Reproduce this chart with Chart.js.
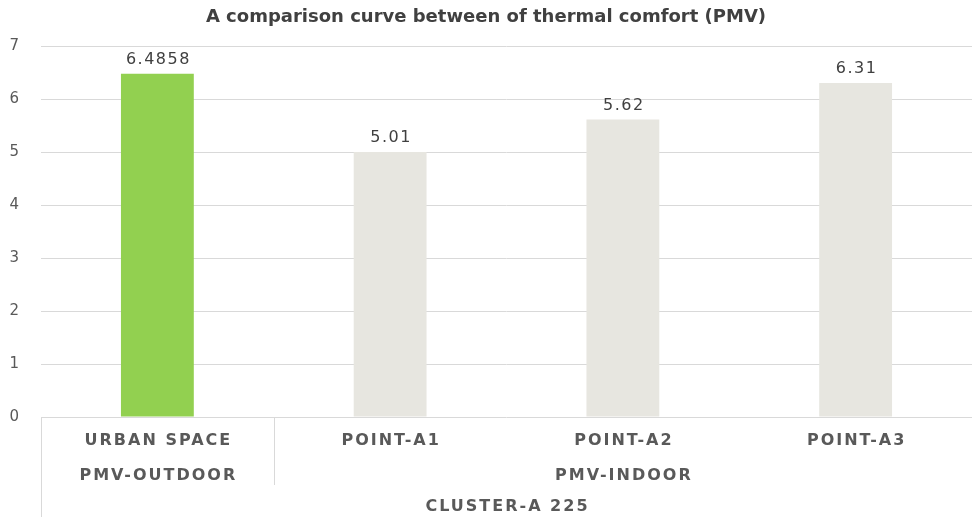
<!DOCTYPE html>
<html>
<head>
<meta charset="utf-8">
<script src="https://cdn.jsdelivr.net/npm/chart.js@4/dist/chart.umd.min.js"></script>
<style>
  html, body { margin: 0; padding: 0; background: #fff; }
  #wrap { width: 972px; height: 517px; position: relative; }
</style>
</head>
<body>
<div id="wrap"><canvas id="pmvCanvas" width="972" height="517"></canvas></div>
<script>
(function(){
  'use strict';

  // ---- Datos ----
  const points   = ['URBAN SPACE', 'POINT-A1', 'POINT-A2', 'POINT-A3'];
  const pmv      = [6.4858, 5.01, 5.62, 6.31];
  const barColors = ['#92D050', '#E7E6E0', '#E7E6E0', '#E7E6E0'];
  // Grupos del eje: [etiqueta, primer índice, último índice]
  const groups   = [['PMV-OUTDOOR', 0, 0], ['PMV-INDOOR', 1, 3]];
  const cluster  = 'CLUSTER-A 225';
  const yTicks   = [0, 1, 2, 3, 4, 5, 6, 7];

  const AXIS_FONT = '700 16px "DejaVu Sans", Verdana, sans-serif';
  const AXIS_COLOR = '#595959';

  // Etiquetas con el valor encima de cada barra
  const valueLabels = {
    id: 'valueLabels',
    afterDatasetsDraw(chart){
      const { ctx } = chart;
      const meta = chart.getDatasetMeta(0);
      ctx.save();
      ctx.font = '16px "DejaVu Sans", sans-serif';
      ctx.fillStyle = '#404040';
      ctx.textAlign = 'center';
      ctx.textBaseline = 'bottom';
      if ('letterSpacing' in ctx) ctx.letterSpacing = '1.5px';
      meta.data.forEach((bar, i) => {
        ctx.fillText(String(pmv[i]), bar.x + 1, bar.y - 6);
      });
      ctx.restore();
    }
  };

  // Eje X de varios niveles (punto / grupo / cluster)
  const multiAxis = {
    id: 'multiAxis',
    afterDraw(chart){
      const { ctx, chartArea } = chart;
      const x = chart.scales.x;
      const top = chartArea.bottom;
      const half = (x.getPixelForValue(1) - x.getPixelForValue(0)) / 2;
      ctx.save();
      ctx.font = AXIS_FONT;
      ctx.fillStyle = AXIS_COLOR;
      ctx.textAlign = 'center';
      ctx.textBaseline = 'middle';
      if ('letterSpacing' in ctx) ctx.letterSpacing = '2px';

      points.forEach((p, i) => ctx.fillText(p, x.getPixelForValue(i) + 1, top + 24));

      groups.forEach(([name, a, b]) => {
        const cx = (x.getPixelForValue(a) + x.getPixelForValue(b)) / 2;
        ctx.fillText(name, cx + 1, top + 59);
      });
      ctx.fillText(cluster, (chartArea.left + chartArea.right) / 2 + 1, top + 90);

      // separadores
      ctx.strokeStyle = '#D9D9D9';
      ctx.lineWidth = 1;
      ctx.beginPath();
      ctx.moveTo(chartArea.left + 0.5, top);
      ctx.lineTo(chartArea.left + 0.5, chart.height);
      groups.slice(1).forEach(([, a]) => {
        const sx = Math.round(x.getPixelForValue(a) - half) + 0.5;
        ctx.moveTo(sx, top);
        ctx.lineTo(sx, top + 68);
      });
      ctx.stroke();
      ctx.restore();
    }
  };

  const canvas = document.getElementById('pmvCanvas');
  new Chart(canvas.getContext('2d'), {
    type: 'bar',
    data: {
      labels: points,
      datasets: [{
        data: pmv,
        backgroundColor: barColors,
        borderWidth: 0,
        categoryPercentage: 1,
        barPercentage: 0.313
      }]
    },
    options: {
      responsive: false,
      animation: false,
      layout: { padding: { top: 7, right: 0, bottom: 0, left: 0 } },
      plugins: {
        legend: { display: false },
        tooltip: { enabled: false },
        title: {
          display: true,
          text: 'A comparison curve between of thermal comfort (PMV)',
          color: '#404040',
          font: { family: '"DejaVu Sans", Verdana, sans-serif', size: 18, weight: 'bold' },
          padding: { top: 0, bottom: 18 }
        }
      },
      scales: {
        x: {
          grid: { display: false },
          border: { display: false },
          ticks: { display: false },
          afterFit: (s) => { s.height = 100; }
        },
        y: {
          min: 0,
          max: 7,
          afterBuildTicks: (s) => { s.ticks = yTicks.map(v => ({ value: v })); },
          afterFit: (s) => { s.width = 41; },
          grid: { color: '#D9D9D9', drawTicks: false },
          border: { display: false },
          ticks: {
            color: AXIS_COLOR,
            padding: 22,
            font: { family: '"DejaVu Sans", sans-serif', size: 15 }
          }
        }
      }
    },
    plugins: [valueLabels, multiAxis]
  });
})();
</script>
</body>
</html>
